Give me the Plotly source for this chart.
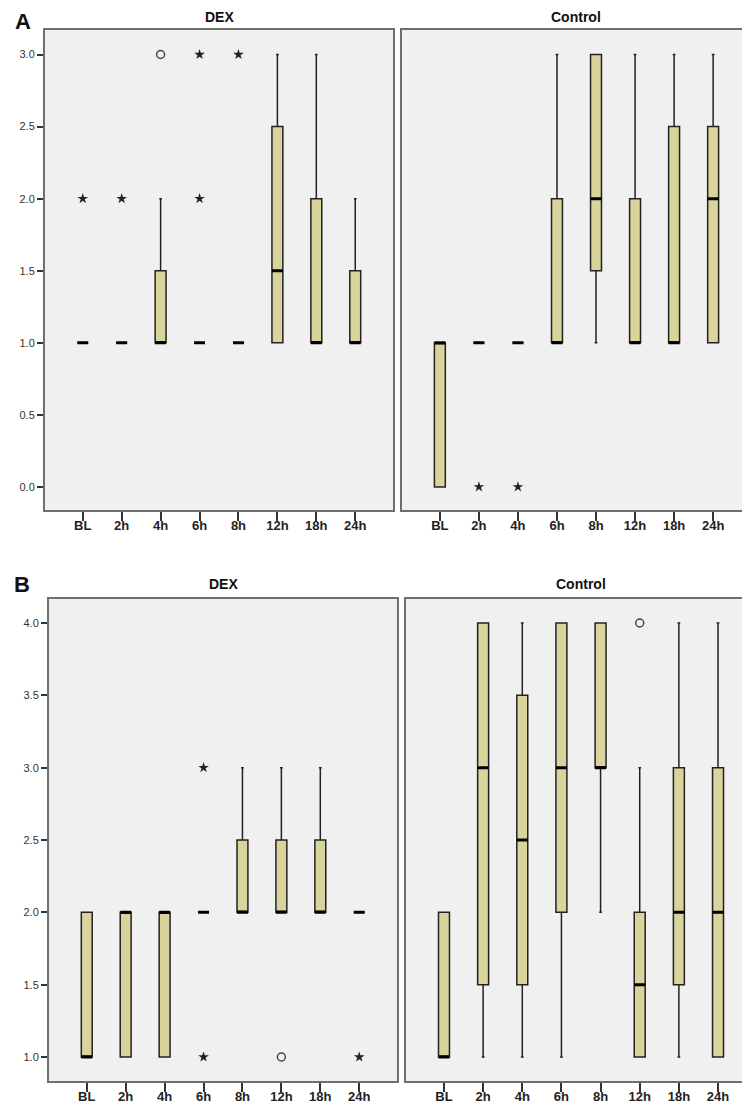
import plotly.graph_objects as go

W, H = 750, 1103
cats = ["BL", "2h", "4h", "6h", "8h", "12h", "18h", "24h"]

# Panel A - DEX
a_dex_q1 = [1, 1, 1, 1, 1, 1, 1, 1]
a_dex_med = [1, 1, 1, 1, 1, 1.5, 1, 1]
a_dex_q3 = [1, 1, 1.5, 1, 1, 2.5, 2, 1.5]
a_dex_lo = [1, 1, 1, 1, 1, 1, 1, 1]
a_dex_hi = [1, 1, 2, 1, 1, 3, 3, 2]
a_dex_star_x = ["BL", "2h", "6h", "6h", "8h"]
a_dex_star_y = [2, 2, 2, 3, 3]
a_dex_circ_x = ["4h"]
a_dex_circ_y = [3]

# Panel A - Control
a_ctl_q1 = [0, 1, 1, 1, 1.5, 1, 1, 1]
a_ctl_med = [1, 1, 1, 1, 2, 1, 1, 2]
a_ctl_q3 = [1, 1, 1, 2, 3, 2, 2.5, 2.5]
a_ctl_lo = [0, 1, 1, 1, 1, 1, 1, 1]
a_ctl_hi = [1, 1, 1, 3, 3, 3, 3, 3]
a_ctl_star_x = ["2h", "4h"]
a_ctl_star_y = [0, 0]
a_ctl_circ_x = []
a_ctl_circ_y = []

# Panel B - DEX
b_dex_q1 = [1, 1, 1, 2, 2, 2, 2, 2]
b_dex_med = [1, 2, 2, 2, 2, 2, 2, 2]
b_dex_q3 = [2, 2, 2, 2, 2.5, 2.5, 2.5, 2]
b_dex_lo = [1, 1, 1, 2, 2, 2, 2, 2]
b_dex_hi = [2, 2, 2, 2, 3, 3, 3, 2]
b_dex_star_x = ["6h", "6h", "24h"]
b_dex_star_y = [3, 1, 1]
b_dex_circ_x = ["12h"]
b_dex_circ_y = [1]

# Panel B - Control
b_ctl_q1 = [1, 1.5, 1.5, 2, 3, 1, 1.5, 1]
b_ctl_med = [1, 3, 2.5, 3, 3, 1.5, 2, 2]
b_ctl_q3 = [2, 4, 3.5, 4, 4, 2, 3, 3]
b_ctl_lo = [1, 1, 1, 1, 2, 1, 1, 1]
b_ctl_hi = [2, 4, 4, 4, 4, 3, 4, 4]
b_ctl_star_x = []
b_ctl_star_y = []
b_ctl_circ_x = ["12h"]
b_ctl_circ_y = [4]

BOX_FILL = "#d9d49c"
BG = "#f0f0f0"
FRAME = "#6e6e6e"
FONT = "Liberation Sans, Arial, sans-serif"

fig = go.Figure()

def px_x(p):
    return p / W

def px_y(p):
    return 1 - p / H

panels = [
    (1, (37, 385), (22, 502),
     (a_dex_q1, a_dex_med, a_dex_q3, a_dex_lo, a_dex_hi, a_dex_star_x, a_dex_star_y, a_dex_circ_x, a_dex_circ_y),
     [-0.16, 3.17], [0, 0.5, 1, 1.5, 2, 2.5, 3], True),
    (2, (394, 743), (22, 502),
     (a_ctl_q1, a_ctl_med, a_ctl_q3, a_ctl_lo, a_ctl_hi, a_ctl_star_x, a_ctl_star_y, a_ctl_circ_x, a_ctl_circ_y),
     [-0.16, 3.17], [0, 0.5, 1, 1.5, 2, 2.5, 3], False),
    (3, (41, 389), (591, 1073),
     (b_dex_q1, b_dex_med, b_dex_q3, b_dex_lo, b_dex_hi, b_dex_star_x, b_dex_star_y, b_dex_circ_x, b_dex_circ_y),
     [0.834, 4.166], [1, 1.5, 2, 2.5, 3, 3.5, 4], True),
    (4, (398, 748), (591, 1073),
     (b_ctl_q1, b_ctl_med, b_ctl_q3, b_ctl_lo, b_ctl_hi, b_ctl_star_x, b_ctl_star_y, b_ctl_circ_x, b_ctl_circ_y),
     [0.834, 4.166], [1, 1.5, 2, 2.5, 3, 3.5, 4], False),
]

layout_axes = {}
for idx, xd, yd, data, yr, yt, showy in panels:
    q1, med, q3, lo, hi, sx, sy, cx, cy = data
    xa = "x" if idx == 1 else f"x{idx}"
    ya = "y" if idx == 1 else f"y{idx}"
    fig.add_trace(go.Box(
        x=cats, q1=q1, median=med, q3=q3, lowerfence=lo, upperfence=hi,
        xaxis=xa, yaxis=ya, fillcolor=BOX_FILL,
        line=dict(color="#222222", width=1.5),
        width=0.28, whiskerwidth=0.25, boxpoints=False, hoverinfo="skip",
        showlegend=False,
    ))
    # thick median line overlay
    fig.add_trace(go.Box(
        x=cats, q1=med, median=med, q3=med, lowerfence=med, upperfence=med,
        xaxis=xa, yaxis=ya, fillcolor="rgba(0,0,0,0)",
        line=dict(color="#000000", width=3),
        width=0.28, whiskerwidth=0, boxpoints=False, hoverinfo="skip",
        showlegend=False,
    ))
    if sx:
        fig.add_trace(go.Scatter(
            x=sx, y=sy, mode="markers", xaxis=xa, yaxis=ya,
            marker=dict(symbol="star", size=8, color="#222222", line=dict(width=0)),
            showlegend=False, hoverinfo="skip",
        ))
    if cx:
        fig.add_trace(go.Scatter(
            x=cx, y=cy, mode="markers", xaxis=xa, yaxis=ya,
            marker=dict(symbol="circle-open", size=8, color="#444444", line=dict(width=1.5)),
            showlegend=False, hoverinfo="skip",
        ))
    xkey = "xaxis" if idx == 1 else f"xaxis{idx}"
    ykey = "yaxis" if idx == 1 else f"yaxis{idx}"
    layout_axes[xkey] = dict(
        domain=[px_x(xd[0]), px_x(xd[1])], anchor=ya,
        type="category", categoryorder="array", categoryarray=cats,
        range=[-0.97, 7.97], showgrid=False, zeroline=False,
        showline=True, mirror=True, linecolor=FRAME, linewidth=2,
        ticks="outside", ticklen=9, tickwidth=1.5, tickcolor="#333333",
        ticklabelstandoff=-7,
        tickfont=dict(family=FONT, size=13, color="#222222", weight="bold"),
        fixedrange=True,
    )
    layout_axes[ykey] = dict(
        domain=[px_y(yd[1]), px_y(yd[0])], anchor=xa,
        range=yr, showgrid=False, zeroline=False,
        showline=True, mirror=True, linecolor=FRAME, linewidth=2,
        tickvals=yt if showy else [], ticktext=[f"{v:.1f}" for v in yt] if showy else [],
        ticks="outside" if showy else "", ticklen=6, tickwidth=1.5, tickcolor="#333333",
        showticklabels=showy,
        tickfont=dict(family=FONT, size=11, color="#333333"),
        fixedrange=True,
    )

annotations = [
    dict(text="<b>A</b>", x=px_x(15), y=px_y(14), size=22),
    dict(text="<b>DEX</b>", x=px_x(211), y=px_y(9), size=14),
    dict(text="<b>Control</b>", x=px_x(568), y=px_y(9), size=14),
    dict(text="<b>B</b>", x=px_x(14), y=px_y(576), size=22),
    dict(text="<b>DEX</b>", x=px_x(215), y=px_y(576), size=14),
    dict(text="<b>Control</b>", x=px_x(573), y=px_y(576), size=14),
]

fig.update_layout(
    width=W, height=H,
    margin=dict(l=0, r=0, t=0, b=0),
    paper_bgcolor="white", plot_bgcolor=BG,
    boxmode="overlay",
    font=dict(family=FONT),
    annotations=[dict(text=a["text"], x=a["x"], y=a["y"], xref="paper", yref="paper",
                      xanchor="center", yanchor="middle", showarrow=False,
                      font=dict(family=FONT, size=a["size"], color="#111111"))
                 for a in annotations],
    **layout_axes,
)

fig.write_html("out.html")
